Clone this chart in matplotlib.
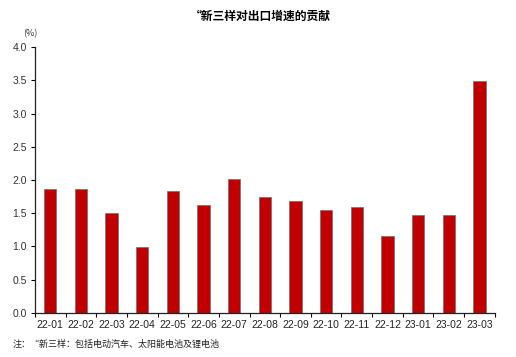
import matplotlib
matplotlib.use("Agg")
import matplotlib.pyplot as plt
import numpy as np

plt.rcParams['font.family'] = ['Liberation Sans', 'Noto Sans CJK SC', 'DejaVu Sans']

months = ['22-01', '22-02', '22-03', '22-04', '22-05', '22-06', '22-07', '22-08',
          '22-09', '22-10', '22-11', '22-12', '23-01', '23-02', '23-03']
contrib = [1.86, 1.86, 1.51, 0.99, 1.83, 1.62, 2.01, 1.74,
           1.68, 1.55, 1.59, 1.16, 1.48, 1.48, 3.49]
y_ticks = [0.0, 0.5, 1.0, 1.5, 2.0, 2.5, 3.0, 3.5, 4.0]

fig = plt.figure(figsize=(5.16, 3.57), dpi=100)
ax = fig.add_axes([0.0678, 0.124, 0.891, 0.7435])

x = np.arange(len(months))
ax.bar(x, contrib, width=0.4, color='#c00000', edgecolor='#707070', linewidth=0.5, zorder=2)

ax.set_xlim(-0.5, len(months) - 0.5)
ax.set_ylim(0, 4.0)
ax.set_yticks(y_ticks)
ax.set_yticklabels([f'{v:.1f}' for v in y_ticks], fontsize=7.5, color='#333333')

# category labels centered, ticks on the boundaries
ax.set_xticks(x)
ax.set_xticklabels(months, fontsize=7.5, color='#222222')
ax.tick_params(axis='x', which='major', length=0, pad=5)
ax.set_xticks(np.arange(-0.5, len(months)), minor=True)
ax.tick_params(axis='x', which='minor', length=3, direction='out', width=0.8)
ax.tick_params(axis='y', length=3, direction='out', width=0.8, pad=3)

for side in ['top', 'right']:
    ax.spines[side].set_visible(False)
for side in ['left', 'bottom']:
    ax.spines[side].set_linewidth(0.9)
    ax.spines[side].set_color('#222222')

cjk = ['Noto Sans CJK SC', 'DejaVu Sans']
fig.text(0.504, 0.955, '\u201c新三样对出口增速的贡献', ha='center', va='center',
         fontsize=8.5, fontweight='bold', family=cjk)
fig.text(0.058, 0.905, '(%)', ha='center', va='center', fontsize=6.5, color='#333333', family=cjk)
fig.text(0.025, 0.036, '注：\u201c新三样：包括电动汽车、太阳能电池及锂电池', ha='left', va='center',
         fontsize=6.5, color='#222222', family=cjk)

fig.savefig('out.png', dpi=100)
